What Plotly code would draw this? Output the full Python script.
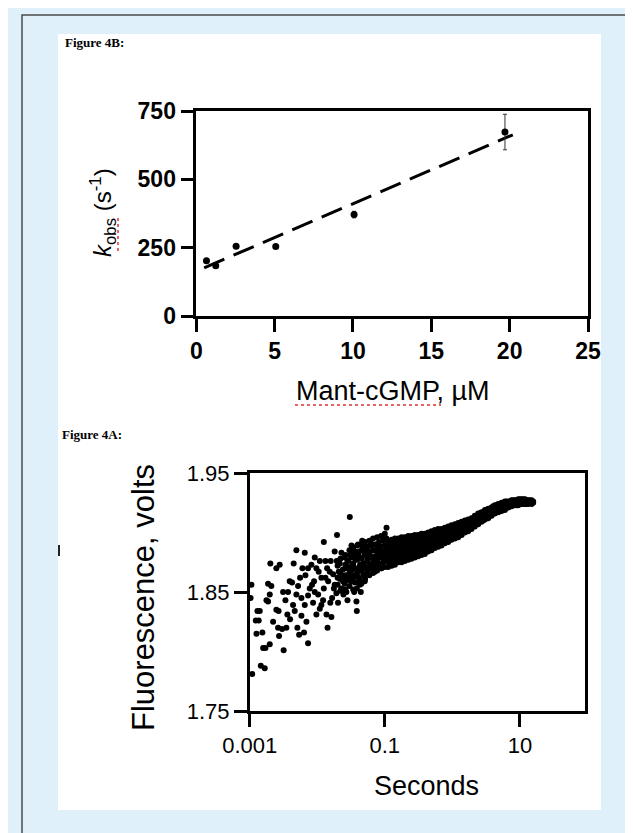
import plotly.graph_objects as go

W, H = 633, 833

# ---------------- Figure 4B data ----------------
conc_uM = [0.65, 1.24, 2.54, 5.07, 10.07, 19.7]
kobs = [202, 184, 255, 254, 371, 673]
kobs_err = [0, 0, 0, 0, 12, 65]
fit_conc = [0.5, 20.2]
fit_kobs = [176, 663]
x4b_ticks = [0, 5, 10, 15, 20, 25]
y4b_ticks = [0, 250, 500, 750]

# ---------------- Figure 4A data ----------------
sparse_t = [0.00106, 0.00103, 0.00109, 0.00123, 0.00136, 0.00130, 0.00141, 0.00126, 0.00146, 0.00167,
            0.00158, 0.00171, 0.00198, 0.00154, 0.00187, 0.00209, 0.00198, 0.00187, 0.00177, 0.00202,
            0.00222, 0.00248, 0.00268, 0.00263, 0.00302, 0.00349, 0.00248, 0.00278, 0.00272, 0.00318,
            0.00312, 0.00338, 0.00370, 0.00391, 0.00424, 0.00361, 0.00396, 0.00448, 0.00491, 0.00491,
            0.00520, 0.00557, 0.00583, 0.00508, 0.00539, 0.00653, 0.00603, 0.00668, 0.00691, 0.00637,
            0.00731, 0.00774, 0.00731, 0.00838, 0.00897, 0.00918, 0.00971, 0.0105, 0.00971, 0.0115,
            0.0125, 0.0132, 0.0140, 0.0125, 0.0132, 0.0142, 0.0156, 0.0166, 0.0176, 0.0162,
            0.0196, 0.0181, 0.0194, 0.0208, 0.0218, 0.0228, 0.0244, 0.0255, 0.0274, 0.0289,
            0.0303, 0.0321, 0.0343, 0.0360, 0.0385, 0.0380, 0.0385, 0.0403, 0.0431, 0.0462,
            0.106, 0.00731, 0.00819, 0.0109, 0.0115, 0.0122, 0.0145, 0.0153, 0.0158, 0.0172,
            0.0181, 0.0192, 0.0203, 0.0215, 0.0228, 0.0241, 0.0255, 0.0270, 0.0280, 0.0286,
            0.0303, 0.0313, 0.0328, 0.0339, 0.0352, 0.0369, 0.0394, 0.0412, 0.0426, 0.0441,
            0.0451, 0.0477, 0.0494, 0.0505, 0.0535, 0.0554, 0.0566, 0.0599, 0.0620, 0.0634,
            0.0671, 0.0694, 0.0711, 0.0752, 0.0778, 0.0796, 0.0843, 0.0872, 0.0892, 0.0944,
            0.0977, 0.100, 0.112, 0.119, 0.126, 0.129, 0.137, 0.00583, 0.00653, 0.0103,
            0.0109, 0.0137, 0.00438, 0.00464, 0.00867, 0.00918, 0.0360, 0.0505, 0.0462, 0.0403]
sparse_v = [1.856, 1.845, 1.781, 1.826, 1.826, 1.834, 1.834, 1.815, 1.788, 1.786,
            1.803, 1.803, 1.806, 1.816, 1.857, 1.855, 1.848, 1.842, 1.843, 1.874,
            1.825, 1.835, 1.834, 1.820, 1.819, 1.820, 1.870, 1.873, 1.813, 1.801,
            1.850, 1.843, 1.850, 1.859, 1.858, 1.831, 1.827, 1.874, 1.885, 1.848,
            1.855, 1.862, 1.830, 1.820, 1.814, 1.883, 1.870, 1.864, 1.825, 1.816,
            1.807, 1.853, 1.847, 1.856, 1.859, 1.879, 1.870, 1.867, 1.831, 1.839,
            1.853, 1.862, 1.870, 1.892, 1.876, 1.820, 1.841, 1.845, 1.853, 1.829,
            1.898, 1.884, 1.876, 1.867, 1.861, 1.853, 1.848, 1.879, 1.870, 1.864,
            1.913, 1.889, 1.884, 1.858, 1.853, 1.842, 1.834, 1.881, 1.873, 1.886,
            1.904, 1.870, 1.873, 1.876, 1.862, 1.843, 1.859, 1.867, 1.876, 1.865,
            1.856, 1.849, 1.841, 1.874, 1.883, 1.862, 1.857, 1.850, 1.843, 1.876,
            1.881, 1.869, 1.863, 1.873, 1.850, 1.877, 1.867, 1.862, 1.856, 1.850,
            1.878, 1.870, 1.864, 1.883, 1.888, 1.876, 1.869, 1.881, 1.891, 1.873,
            1.885, 1.878, 1.867, 1.890, 1.883, 1.874, 1.887, 1.880, 1.870, 1.884,
            1.894, 1.877, 1.887, 1.881, 1.873, 1.891, 1.884, 1.845, 1.839, 1.848,
            1.836, 1.831, 1.839, 1.834, 1.841, 1.850, 1.884, 1.859, 1.893, 1.890]

# dense cloud 0.02 - 0.1 s (time of each column, readings in that column)
cluster_t = [0.020, 0.022, 0.024, 0.026, 0.028, 0.030, 0.032, 0.034, 0.036, 0.039,
             0.042, 0.045, 0.048, 0.051, 0.055, 0.059, 0.063, 0.067, 0.072, 0.077,
             0.082, 0.088, 0.094, 0.100, 0.106]
cluster_v = [
    [1.872, 1.862, 1.856],
    [1.878, 1.866, 1.851],
    [1.869, 1.859],
    [1.881, 1.873, 1.864, 1.852],
    [1.876, 1.860],
    [1.885, 1.871, 1.866, 1.855],
    [1.879, 1.868, 1.859],
    [1.887, 1.874, 1.862, 1.852],
    [1.881, 1.870, 1.864],
    [1.889, 1.877, 1.866, 1.858],
    [1.884, 1.871, 1.861],
    [1.890, 1.879, 1.868, 1.857],
    [1.886, 1.874, 1.865],
    [1.892, 1.881, 1.871, 1.861],
    [1.887, 1.877, 1.867],
    [1.893, 1.883, 1.873, 1.864],
    [1.889, 1.879, 1.870],
    [1.895, 1.885, 1.875, 1.866],
    [1.890, 1.880, 1.871],
    [1.896, 1.886, 1.877, 1.868],
    [1.892, 1.882, 1.873],
    [1.897, 1.888, 1.879, 1.870],
    [1.893, 1.884, 1.875],
    [1.899, 1.889, 1.880, 1.871],
    [1.895, 1.885, 1.876],
]

# main band 0.1 - 16 s
band_t = [0.112, 0.119, 0.126, 0.133, 0.141, 0.149, 0.158, 0.167, 0.177, 0.187,
          0.198, 0.209, 0.222, 0.234, 0.248, 0.263, 0.278, 0.294, 0.312, 0.330,
          0.349, 0.369, 0.391, 0.414, 0.438, 0.464, 0.491, 0.520, 0.550, 0.582,
          0.616, 0.652, 0.690, 0.731, 0.773, 0.819, 0.867, 0.917, 0.971, 1.03,
          1.09, 1.15, 1.22, 1.29, 1.37, 1.45, 1.53, 1.62, 1.71, 1.81,
          1.92, 2.03, 2.15, 2.28, 2.41, 2.55, 2.70, 2.86, 3.03, 3.20,
          3.39, 3.59, 3.80, 4.02, 4.26, 4.51, 4.77, 5.05, 5.35, 5.66,
          5.99, 6.34, 6.71, 7.10, 7.52, 7.95, 8.43, 8.91, 9.44, 9.98,
          10.6, 11.2, 11.9, 12.5, 13.3, 14.0, 14.9, 15.7]
band_v = [
    [1.893, 1.888, 1.882, 1.876, 1.871],
    [1.891, 1.885, 1.879, 1.873],
    [1.894, 1.888, 1.883, 1.878, 1.872],
    [1.892, 1.886, 1.880, 1.875],
    [1.895, 1.889, 1.883, 1.878, 1.873],
    [1.892, 1.887, 1.882, 1.876],
    [1.895, 1.890, 1.885, 1.880, 1.875],
    [1.893, 1.888, 1.883, 1.878],
    [1.896, 1.891, 1.885, 1.880, 1.875],
    [1.894, 1.888, 1.883, 1.878],
    [1.896, 1.891, 1.886, 1.881, 1.876],
    [1.894, 1.889, 1.884, 1.879],
    [1.897, 1.892, 1.887, 1.882, 1.877],
    [1.895, 1.890, 1.885, 1.880],
    [1.897, 1.893, 1.887, 1.882, 1.878],
    [1.895, 1.890, 1.885, 1.881],
    [1.898, 1.893, 1.888, 1.883, 1.879],
    [1.896, 1.891, 1.886, 1.882],
    [1.898, 1.894, 1.889, 1.885, 1.880],
    [1.896, 1.892, 1.887, 1.883],
    [1.899, 1.894, 1.890, 1.886, 1.881],
    [1.897, 1.892, 1.888, 1.884],
    [1.899, 1.895, 1.891, 1.887, 1.882],
    [1.897, 1.893, 1.889, 1.885],
    [1.900, 1.896, 1.892, 1.888, 1.884],
    [1.898, 1.894, 1.890, 1.886],
    [1.901, 1.897, 1.893, 1.889, 1.885],
    [1.899, 1.895, 1.891, 1.888],
    [1.902, 1.898, 1.894, 1.890, 1.887],
    [1.900, 1.896, 1.892],
    [1.903, 1.898, 1.893, 1.888],
    [1.901, 1.896, 1.891],
    [1.903, 1.899, 1.894, 1.889],
    [1.901, 1.897, 1.892],
    [1.904, 1.900, 1.895, 1.891],
    [1.902, 1.898, 1.894],
    [1.905, 1.901, 1.896, 1.892],
    [1.903, 1.899, 1.895],
    [1.906, 1.902, 1.898, 1.894],
    [1.904, 1.900, 1.896],
    [1.907, 1.903, 1.899, 1.895],
    [1.905, 1.901, 1.897],
    [1.908, 1.904, 1.900, 1.896],
    [1.906, 1.902, 1.899],
    [1.909, 1.905, 1.902, 1.898],
    [1.907, 1.904, 1.901],
    [1.910, 1.906, 1.903, 1.900],
    [1.909, 1.906, 1.903],
    [1.911, 1.908, 1.905, 1.901],
    [1.910, 1.907, 1.904],
    [1.912, 1.909, 1.906, 1.903],
    [1.912, 1.909, 1.906],
    [1.914, 1.911, 1.908, 1.905],
    [1.914, 1.911, 1.908],
    [1.916, 1.913, 1.910, 1.907],
    [1.916, 1.913, 1.910],
    [1.917, 1.915, 1.912, 1.909],
    [1.917, 1.913, 1.910],
    [1.919, 1.915, 1.911],
    [1.919, 1.916, 1.913],
    [1.920, 1.916, 1.912],
    [1.920, 1.917, 1.914],
    [1.921, 1.918, 1.914],
    [1.922, 1.919, 1.916],
    [1.923, 1.919, 1.916],
    [1.923, 1.920, 1.917],
    [1.924, 1.920, 1.917],
    [1.924, 1.921, 1.918],
    [1.925, 1.921, 1.918],
    [1.925, 1.922, 1.920],
    [1.926, 1.922, 1.919],
    [1.926, 1.923, 1.921],
    [1.926, 1.923, 1.921],
    [1.926, 1.924, 1.922],
    [1.927, 1.924, 1.922],
    [1.927, 1.925, 1.923],
    [1.927, 1.925, 1.923],
    [1.927, 1.925, 1.923],
    [1.928, 1.925, 1.923],
    [1.928, 1.926, 1.924],
    [1.928, 1.926, 1.924],
    [1.928, 1.926, 1.924],
    [1.928, 1.926, 1.924],
    [1.927, 1.926, 1.924],
    [1.927, 1.926, 1.924],
    [1.927, 1.925],
    [1.927, 1.926, 1.924],
    [1.926, 1.925],
]
x4a_tickvals = [0.001, 0.1, 10]
x4a_ticktext = ["0.001", "0.1", "10"]
y4a_ticks = [1.75, 1.85, 1.95]

# ---------------- helpers (pixel -> paper) ----------------
def PX(x):
    return x / W


def PY(y):
    return 1 - y / H


SANS = "Liberation Sans, Arial, sans-serif"
SERIF = "Liberation Serif, Times New Roman, serif"


def flatten(ts, vs):
    xs = [t for t, col in zip(ts, vs) for _ in col]
    ys = [v for col in vs for v in col]
    return xs, ys


cl_x, cl_y = flatten(cluster_t, cluster_v)
bd_x, bd_y = flatten(band_t, band_v)
all_t = sparse_t + cl_x + bd_x
all_v = sparse_v + cl_y + bd_y

fig = go.Figure()

# Figure 4B
fig.add_trace(go.Scatter(
    x=fit_conc, y=fit_kobs, mode="lines",
    line=dict(color="black", width=3, dash="22px,10px"),
    xaxis="x", yaxis="y", showlegend=False, hoverinfo="skip"))
fig.add_trace(go.Scatter(
    x=conc_uM, y=kobs, mode="markers",
    marker=dict(color="black", size=7),
    error_y=dict(type="data", array=kobs_err, visible=True, color="#333", thickness=1, width=2),
    xaxis="x", yaxis="y", showlegend=False))

# Figure 4A
fig.add_trace(go.Scatter(
    x=all_t, y=all_v, mode="markers",
    marker=dict(color="black", size=6, line=dict(width=0)),
    xaxis="x2", yaxis="y2", showlegend=False))

axis_common = dict(showgrid=False, zeroline=False, showline=True, linecolor="black",
                   linewidth=2.5, mirror=True, ticks="outside", tickcolor="black",
                   tickwidth=3, ticklen=13)

fig.update_layout(
    width=W, height=H,
    margin=dict(l=0, r=0, t=0, b=0, pad=0, autoexpand=False),
    paper_bgcolor="#DFF0FA",
    plot_bgcolor="white",
    xaxis=dict(domain=[PX(188.3), PX(580)], range=[0, 25], anchor="y",
               tickvals=x4b_ticks,
               tickfont=dict(family=SANS, size=23, color="black", weight="bold"),
               **axis_common),
    yaxis=dict(domain=[PY(308), PY(103)], range=[0, 750], anchor="x",
               tickvals=y4b_ticks,
               tickfont=dict(family=SANS, size=23, color="black", weight="bold"),
               **axis_common),
    xaxis2=dict(domain=[PX(241.7), PX(577)], type="log", range=[-3, 1.963], anchor="y2",
                tickvals=x4a_tickvals, ticktext=x4a_ticktext,
                tickfont=dict(family=SANS, size=22, color="black"),
                **axis_common),
    yaxis2=dict(domain=[PY(703), PY(465)], range=[1.75, 1.95], anchor="x2",
                tickvals=y4a_ticks, tickformat=".2f",
                tickfont=dict(family=SANS, size=22, color="black"),
                **axis_common),
    shapes=[
        # white page area
        dict(type="rect", xref="paper", yref="paper", x0=PX(50), x1=PX(593), y0=PY(802), y1=PY(26),
             fillcolor="white", line=dict(width=0), layer="below"),
        # outer frame
        dict(type="rect", xref="paper", yref="paper", x0=PX(14), x1=1.05, y0=-0.05, y1=PY(7),
             fillcolor="rgba(0,0,0,0)", line=dict(color="#4a4a4a", width=1.5), layer="below"),
        # stray cursor mark
        dict(type="line", xref="paper", yref="paper", x0=PX(51), x1=PX(51), y0=PY(548), y1=PY(537),
             line=dict(color="#222", width=2)),
        # red spell-check squiggles
        dict(type="line", xref="paper", yref="paper", x0=PX(287), x1=PX(433), y0=PY(397), y1=PY(397),
             line=dict(color="#e03030", width=1.5, dash="dot")),
        dict(type="line", xref="paper", yref="paper", x0=PX(110), x1=PX(110), y0=PY(243), y1=PY(207),
             line=dict(color="#e03030", width=1.5, dash="dot")),
    ],
    annotations=[
        dict(text="<b>Figure 4B:</b>", x=PX(55), y=PY(34), xref="paper", yref="paper",
             xanchor="left", yanchor="middle", showarrow=False,
             font=dict(family=SERIF, size=13, color="black")),
        dict(text="<b>Figure 4A:</b>", x=PX(52), y=PY(427), xref="paper", yref="paper",
             xanchor="left", yanchor="middle", showarrow=False,
             font=dict(family=SERIF, size=13, color="black")),
        dict(text="<i>k</i><sub>obs</sub> (s<sup>-1</sup>)", x=PX(95), y=PY(205), xref="paper", yref="paper",
             xanchor="center", yanchor="middle", textangle=-90, showarrow=False,
             font=dict(family=SANS, size=24, color="black")),
        dict(text="Mant-cGMP, \u00b5M", x=PX(385), y=PY(383), xref="paper", yref="paper",
             xanchor="center", yanchor="middle", showarrow=False,
             font=dict(family=SANS, size=27, color="black")),
        dict(text="Fluorescence, volts", x=PX(135), y=PY(590), xref="paper", yref="paper",
             xanchor="center", yanchor="middle", textangle=-90, showarrow=False,
             font=dict(family=SANS, size=31, color="black")),
        dict(text="Seconds", x=PX(418), y=PY(778), xref="paper", yref="paper",
             xanchor="center", yanchor="middle", showarrow=False,
             font=dict(family=SANS, size=27, color="black")),
    ],
)

fig.write_html("out.html")
